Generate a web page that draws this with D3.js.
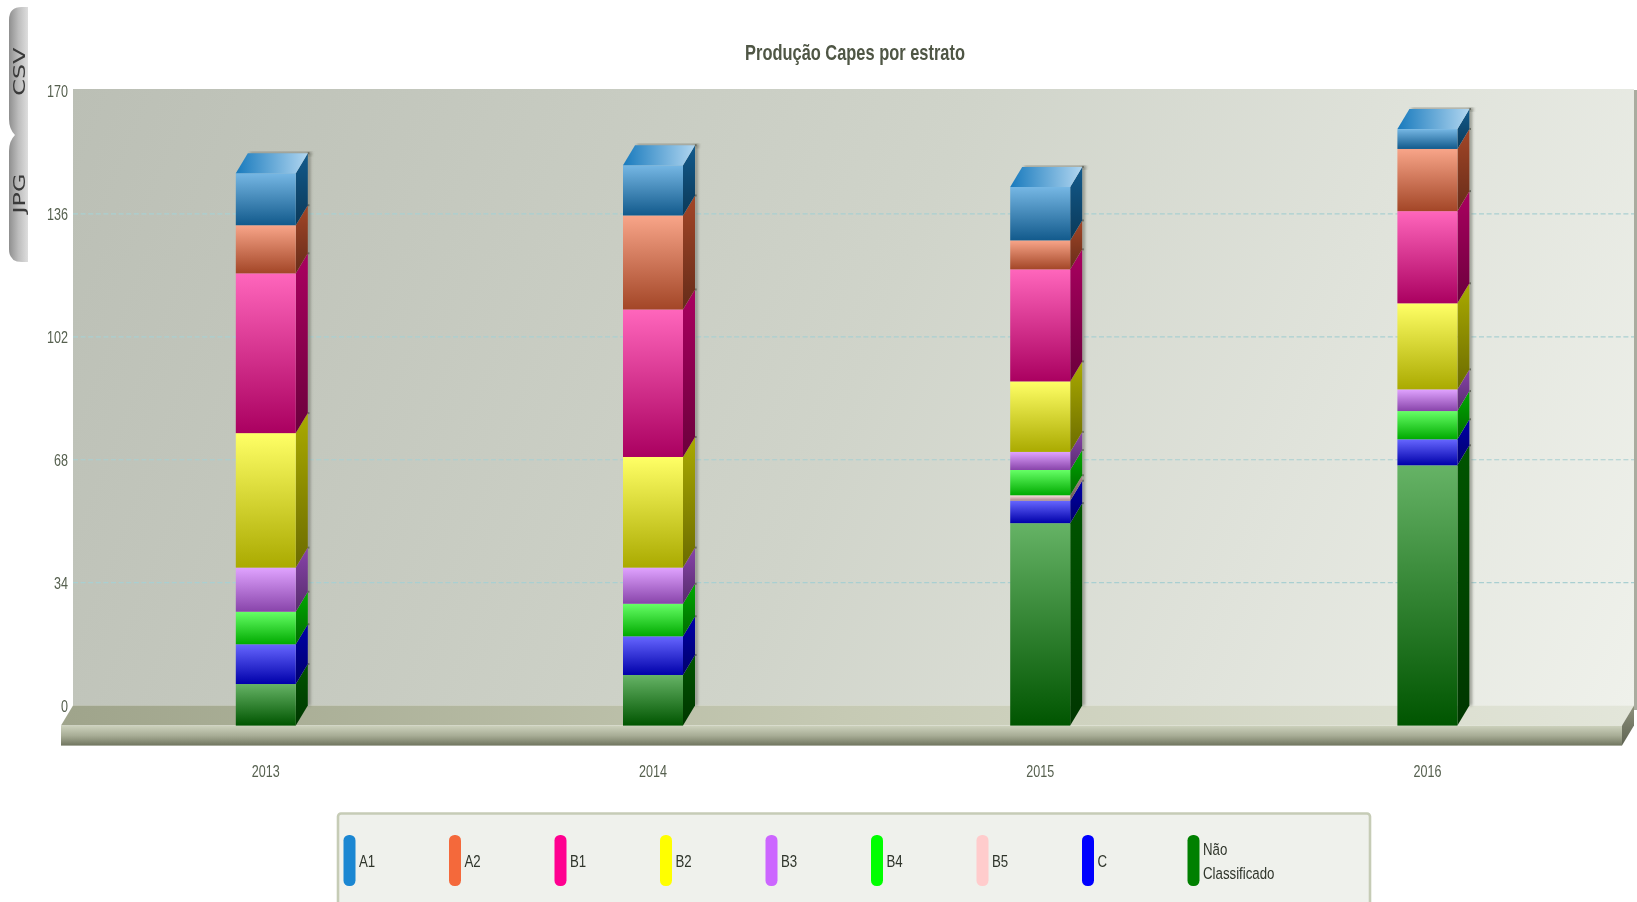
<!DOCTYPE html>
<html><head><meta charset="utf-8">
<script src="https://cdnjs.cloudflare.com/ajax/libs/d3/7.8.5/d3.min.js"></script>
<style>html,body{margin:0;padding:0;background:#fff;overflow:hidden}svg{display:block;filter:blur(.45px)}
text{font-family:"Liberation Sans",sans-serif}</style></head><body>
<svg id="c" width="1637" height="902"></svg>
<script>
const title = "Produção Capes por estrato";
const years = ["2013","2014","2015","2016"];
const seriesNames = ["Não Classificado","C","B5","B4","B3","B2","B1","A2","A1"];
const naoClassificado = [11.5,14,56,72];
const estratoC = [11,10.7,6.2,7.2];
const estratoB5 = [0,0,1.5,0];
const estratoB4 = [9,9,7,7.8];
const estratoB3 = [12.2,10,5,6];
const estratoB2 = [37.2,30.6,19.5,23.8];
const estratoB1 = [44.2,40.8,31,25.5];
const estratoA2 = [13.3,26,8,17.2];
const estratoA1 = [14.4,13.9,14.8,5.5];
const seriesColors = ["#008000","#0000ff","#ffcccc","#00ff00","#cc66ff","#ffff00","#ff0090","#f4693b","#1b87d2"];
const legendNames = ["A1","A2","B1","B2","B3","B4","B5","C","Não Classificado"];
const legendColors = ["#1b87d2","#f4693b","#ff0090","#ffff00","#cc66ff","#00ff00","#ffcccc","#0000ff","#008000"];
const yTicks = [0,34,68,102,136,170];

const W=[73,1634], BACK0=705.6, TOP170=91, DX=12, DY=20, BW=60, SQ=0.74;
const svg=d3.select("#c"), defs=svg.append("defs");
function grad(id,x1,y1,x2,y2,stops,user){
  const g=defs.append("linearGradient").attr("id",id).attr("x1",x1).attr("y1",y1).attr("x2",x2).attr("y2",y2);
  if(user) g.attr("gradientUnits","userSpaceOnUse");
  stops.forEach((c,i)=>g.append("stop").attr("offset",i/(stops.length-1)).attr("stop-color",c));
}
const blur=defs.append("filter").attr("id","sh").attr("x","-100%").attr("width","300%");
blur.append("feGaussianBlur").attr("stdDeviation",1.4);
grad("wall",73,89,1634,706,["#bbbfb5","#d0d4ca","#eff1eb"],true);
grad("floor",0,0,1,0,["#9fa48b","#c6cab4","#e3e6da"]);
grad("front",0,0,0,1,["#cdd2bd","#a8ad96","#70755f"]);
grad("edge",0,0,0,1,["#8d917c","#5f6352"]);
grad("tab",0,0,1,0,["#8f8f8f","#bdbdbd","#dedede"]);

const x=d3.scaleBand().domain(years).range([72.2,1621]);
const y=d3.scaleLinear().domain([0,170]).range([BACK0,TOP170]);
const poly=(p)=>d3.line()(p)+"Z";

// tabs
{
  const l=9,R=28,t=7,m=135,b=262,r=13;
  svg.append("path").attr("fill","url(#tab)")
    .attr("d",`M${R},${t}L${l+r},${t}Q${l},${t} ${l},${t+r}L${l},${m-16}Q${l},${m-6} ${l+6},${m}Q${l},${m+6} ${l},${m+16}L${l},${b-r}Q${l},${b} ${l+r},${b}L${R},${b}Z`);
}
[["CSV",71.7],["JPG",193.5]].forEach(([t,c])=>{
  svg.append("text").attr("transform",`translate(25,${c}) rotate(-90) scale(1.45,1)`).attr("text-anchor","middle")
    .style("font-family","'DejaVu Sans'").attr("font-size",16.5).attr("fill","#3a3a3a").text(t);
});

// title
svg.append("text").attr("transform",`translate(855,60) scale(.73,1)`).attr("text-anchor","middle").attr("font-size",22.5)
  .attr("font-weight","bold").attr("fill","#4f5645").text(title);

// wall
svg.append("rect").attr("x",1634).attr("y",90).attr("width",3).attr("height",620).attr("fill","#a9ac9f");
svg.append("rect").attr("x",W[0]).attr("y",89).attr("width",W[1]-W[0]).attr("height",BACK0-89).attr("fill","url(#wall)");
// grid
svg.append("g").selectAll("line").data(yTicks.filter(d=>d>0&&d<170)).join("line")
  .attr("x1",W[0]).attr("x2",W[1]).attr("y1",y).attr("y2",y)
  .attr("stroke","#a9cfd1").attr("stroke-width",1.2).attr("stroke-dasharray","5 2.6");
// floor
svg.append("path").attr("fill","url(#floor)").attr("d",poly([[W[0],BACK0],[W[1],BACK0],[W[1]-DX,BACK0+DY],[W[0]-DX,BACK0+DY]]));
svg.append("rect").attr("x",W[0]-DX).attr("y",BACK0+DY).attr("width",W[1]-W[0]).attr("height",20).attr("fill","url(#front)");
svg.append("path").attr("fill","url(#edge)").attr("d",poly([[W[1]-DX,BACK0+DY],[W[1],BACK0],[W[1],BACK0+20],[W[1]-DX,BACK0+DY+20]]));

// y axis
const ya=svg.append("g").attr("transform","translate(68,0)").call(d3.axisLeft(y).tickValues(yTicks).tickSize(0).tickPadding(0));
ya.select(".domain").remove();
ya.selectAll("text").style("font-family","'Liberation Sans'").attr("font-size",17).attr("fill","#56604f")
  .attr("transform",`scale(${SQ},1)`);

// bars
const rows=years.map((yr,i)=>{const o={year:yr};
  [naoClassificado,estratoC,estratoB5,estratoB4,estratoB3,estratoB2,estratoB1,estratoA2,estratoA1]
   .forEach((a,k)=>o[seriesNames[k]]=a[i]);return o;});
const stack=d3.stack().keys(seriesNames)(rows);
seriesNames.forEach((n,k)=>{
  const c=seriesColors[k], r=d3.rgb(c);
  const dark=f=>d3.rgb(r.r*f,r.g*f,r.b*f).formatHex();
  grad("f"+k,0,0,0,1,[d3.interpolateRgb(c,"#fff")(.4),dark(.667)]);
  grad("s"+k,0,0,0,1,[dark(.667),dark(.42)]);
  grad("t"+k,0,0,1,0,[dark(.9),d3.interpolateRgb(c,"#fff")(.66)]);
});
const cx=d=>x(d)+x.bandwidth()/2;
const bars=svg.append("g");
years.forEach((yr,i)=>{
  const x0=cx(yr)-BW/2, x1=x0+BW;
  const total=stack[stack.length-1][i][1];
  bars.append("rect").attr("x",x0+DX+2).attr("y",y(total)-1.5).attr("width",BW+2).attr("height",4)
    .attr("fill","#6f7267").attr("opacity",.55).attr("filter","url(#sh)");
  bars.append("rect").attr("x",x1+DX-.5).attr("y",y(total)).attr("width",3)
    .attr("height",BACK0-y(total)).attr("fill","#6f7267").attr("opacity",.75).attr("filter","url(#sh)");
  stack.forEach((s,k)=>{
    const [a,b]=s[i]; if(b-a<=0) return;
    const ya=y(a)+DY, yb=y(b)+DY;
    bars.append("rect").attr("x",x1+DX).attr("y",yb-DY-1).attr("width",1.6).attr("height",2).attr("fill","#6a6d62");
    bars.append("path").attr("fill",`url(#s${k})`).attr("d",poly([[x1,yb],[x1+DX,yb-DY],[x1+DX,ya-DY],[x1,ya]]));
    bars.append("rect").attr("x",x0).attr("y",yb).attr("width",BW).attr("height",ya-yb).attr("fill",`url(#f${k})`);
  });
  const top=y(total)+DY;
  bars.append("path").attr("fill","url(#t8)").attr("d",poly([[x0,top],[x0+DX,top-DY],[x1+DX,top-DY],[x1,top]]));
});

// x axis
const xa=svg.append("g").attr("transform","translate(0,765)").call(d3.axisBottom(x).tickSize(0).tickPadding(0));
xa.select(".domain").remove();
xa.selectAll("text").style("font-family","'Liberation Sans'").attr("font-size",17).attr("fill","#56604f")
  .attr("transform",`scale(${SQ},1)`);

// legend
svg.append("rect").attr("x",338).attr("y",813.5).attr("width",1032).attr("height",120).attr("rx",3)
  .attr("fill","#eff1ec").attr("stroke","#c6ccb6").attr("stroke-width",2.6);
const lg=svg.append("g").selectAll("g").data(legendNames).join("g")
  .attr("transform",(d,i)=>`translate(${343.5+i*105.5},835)`);
lg.append("rect").attr("width",12).attr("height",51).attr("rx",5.5).attr("fill",(d,i)=>legendColors[i]);
lg.each(function(d){
  const words=d.split(" "), g=d3.select(this);
  words.forEach((w,j)=>g.append("text").attr("transform",`translate(15.5,${words.length>1?20+j*24:32}) scale(.78,1)`)
    .attr("font-size",17).attr("fill","#2f352b").text(w));
});
</script></body></html>
